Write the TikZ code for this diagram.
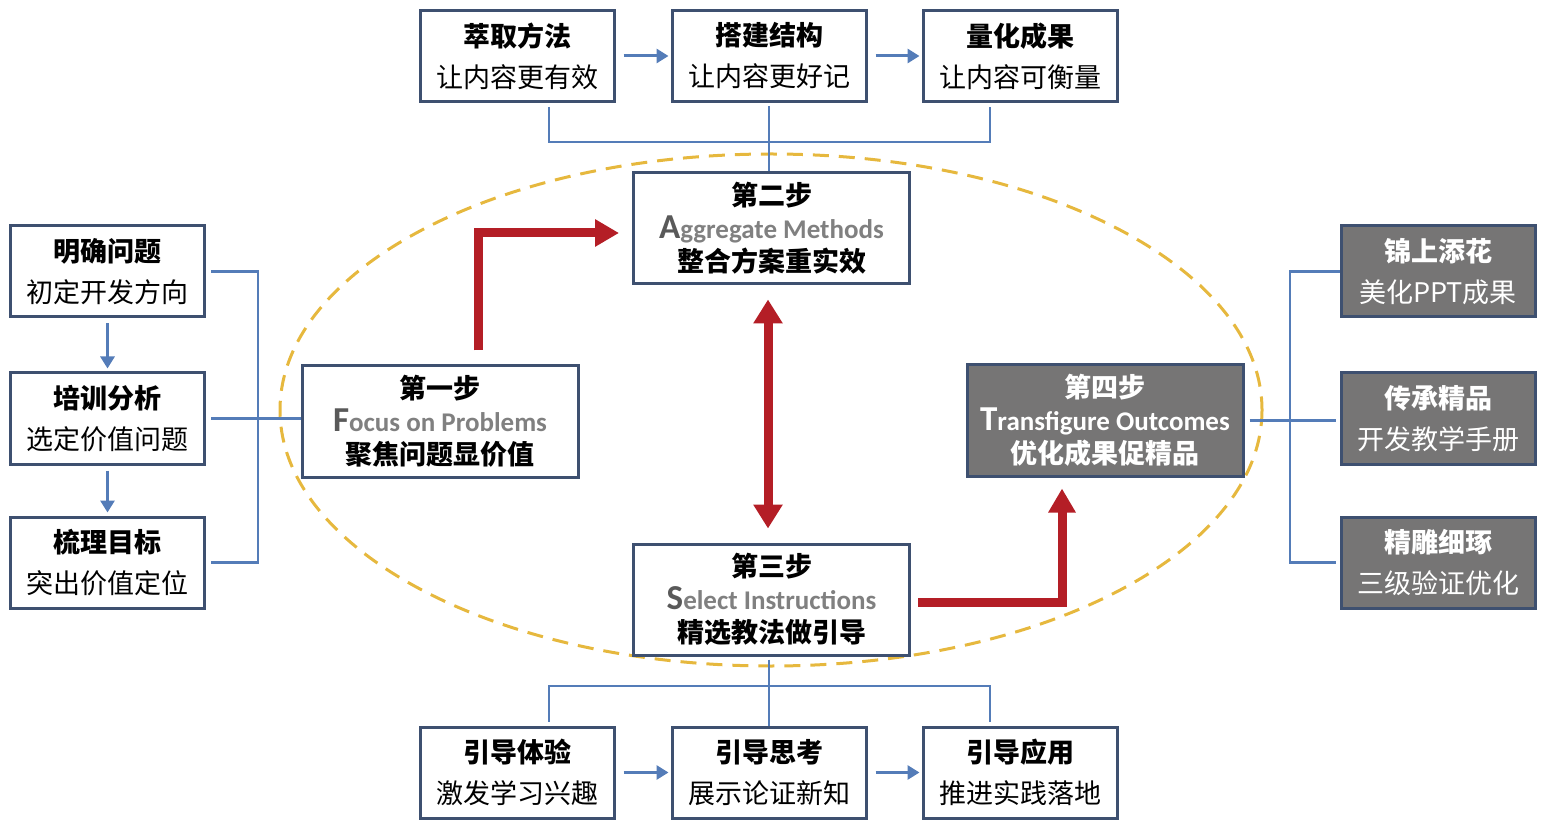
\documentclass[tikz,border=0pt]{standalone}
\usepackage{fontspec}
\setmainfont{Carlito}
\newfontfamily\cjk{Noto Sans CJK SC}
\usepackage{tikz}
\usetikzlibrary{positioning, arrows.meta, calc}

\definecolor{boxblue}{RGB}{62,80,112}
\definecolor{linkblue}{RGB}{84,124,184}
\definecolor{stepred}{RGB}{180,30,38}
\definecolor{ringgold}{RGB}{230,184,62}
\definecolor{stepgray}{RGB}{118,117,117}
\definecolor{engray}{RGB}{128,128,128}
\definecolor{endark}{RGB}{89,89,89}

% english line: big first letter, then the rest
\newcommand{\engline}[4]{{\rmfamily\bfseries\fontsize{13.5}{16.5}\selectfont\textcolor{#3}{\fontsize{17.5}{16.5}\selectfont #1}\textcolor{#4}{#2}}}

\begin{document}
\begin{tikzpicture}[x=0.5pt,y=0.5pt,yscale=-1,xscale=1,
  infobox/.style={draw=boxblue, line width=1.5pt, fill=white, minimum width=97pt, minimum height=45.5pt, inner sep=0pt, align=center, font=\cjk\fontsize{13.5}{20.5}\selectfont},
  graybox/.style={infobox, fill=stepgray, text=white},
  stepbox/.style={infobox, minimum width=138pt, minimum height=55.5pt, font=\cjk\fontsize{13.5}{16.5}\selectfont},
  link/.style={draw=linkblue, line width=1.3pt},
  linkarrow/.style={draw=linkblue, line width=1.5pt, -{Triangle[length=6pt,width=7pt]}},
  bigarrow/.style={draw=stepred, line width=4.5pt, -{Triangle[length=12pt,width=13pt]}}]
\useasboundingbox (0,0) rectangle (1547,828);

%Shape: Ellipse
\draw [ringgold, line width=1.5pt, dash pattern=on 8pt off 5pt] (771,410) ellipse [x radius=491, y radius=256];

% Text Node
\node [infobox] (top1) at (517,56) {{\bfseries 萃取方法}\\让内容更有效};
% Text Node
\node [infobox] (top2) at (769,56) {{\bfseries 搭建结构}\\让内容更好记};
% Text Node
\node [infobox] (top3) at (1020,56) {{\bfseries 量化成果}\\让内容可衡量};

% Text Node
\node [infobox] (left1) at (107.5,271.5) {{\bfseries 明确问题}\\初定开发方向};
% Text Node
\node [infobox] (left2) at (107.5,418.5) {{\bfseries 培训分析}\\选定价值问题};
% Text Node
\node [infobox] (left3) at (107.5,562.5) {{\bfseries 梳理目标}\\突出价值定位};

% Text Node
\node [graybox] (right1) at (1438,271.5) {{\bfseries 锦上添花}\\美化PPT成果};
% Text Node
\node [graybox] (right2) at (1438,418.5) {{\bfseries 传承精品}\\开发教学手册};
% Text Node
\node [graybox] (right3) at (1438,562.5) {{\bfseries 精雕细琢}\\三级验证优化};

% Text Node
\node [infobox] (bot1) at (517,772.5) {{\bfseries 引导体验}\\激发学习兴趣};
% Text Node
\node [infobox] (bot2) at (769,772.5) {{\bfseries 引导思考}\\展示论证新知};
% Text Node
\node [infobox] (bot3) at (1020,772.5) {{\bfseries 引导应用}\\推进实践落地};

% Text Node
\node [stepbox] (step1) at (440,421.5) {{\bfseries 第一步}\\\engline{F}{ocus on Problems}{endark}{engray}\\{\bfseries 聚焦问题显价值}};
% Text Node
\node [stepbox] (step2) at (771.5,228.5) {{\bfseries 第二步}\\\engline{A}{ggregate Methods}{endark}{engray}\\{\bfseries 整合方案重实效}};
% Text Node
\node [stepbox] (step3) at (771.5,599.5) {{\bfseries 第三步}\\\engline{S}{elect Instructions}{endark}{engray}\\{\bfseries 精选教法做引导}};
% Text Node
\node [stepbox, fill=stepgray, text=white] (step4) at (1105,420.5) {{\bfseries 第四步}\\\engline{T}{ransfigure Outcomes}{white}{white}\\{\bfseries 优化成果促精品}};

\coordinate (topl) at (549,142);
\coordinate (topr) at (990,142);
\coordinate (leftc) at (258,271.5);
\coordinate (rightc) at (1290,271.5);
\coordinate (botl) at (549,686);
\coordinate (botr) at (990,686);

%Straight Lines
\draw [linkarrow, shorten <=4pt, shorten >=1pt] (top1) -- (top2);
\draw [linkarrow, shorten <=4pt, shorten >=1pt] (top2) -- (top3);
\draw [linkarrow, shorten <=4pt, shorten >=1pt] (bot1) -- (bot2);
\draw [linkarrow, shorten <=4pt, shorten >=1pt] (bot2) -- (bot3);
\draw [linkarrow, shorten <=2.5pt, shorten >=1.5pt] (left1) -- (left2);
\draw [linkarrow, shorten <=2.5pt, shorten >=1.5pt] (left2) -- (left3);

%Straight Lines
\draw [link, shorten <=2pt, shorten >=2pt] (top1.south -| topl) -- (topl) -- (topr) -- (top3.south -| topr);
\draw [link, shorten <=1.5pt] (top2.south) -- (top2.south |- step2.north);
\draw [link, shorten <=2.5pt] (left1.east) -- (leftc) |- ($(left3.east)+(5,0)$);
\draw [link, shorten <=2.5pt] (left2.east) -- (left2.east -| step1.west);
\draw [link, shorten >=2pt] (right1.west) -- (rightc) |- (right3.west);
\draw [link, shorten <=2.5pt, shorten >=2pt] (step4.east) -- (step4.east -| right2.west);
\draw [link, shorten <=1.5pt] (bot2.north |- step3.south) -- (bot2.north);
\draw [link, shorten <=2pt, shorten >=2pt] (bot1.north -| botl) -- (botl) -- (botr) -- (bot3.north -| botr);

%Red Arrows
\draw [bigarrow] ($(step1.north)+(38,-14)$) |- ($(step2.west)+(-13,4.5)$);
\draw [bigarrow, {Triangle[length=12pt,width=14pt]}-{Triangle[length=12pt,width=14pt]}] ($(step2.south)+(-3.5,14)$) -- ($(step3.north)+(-3.5,-14)$);
\draw [bigarrow] ($(step3.east)+(7,3)$) -| ($(step4.south)+(-43,11)$);

\end{tikzpicture}
\end{document}
